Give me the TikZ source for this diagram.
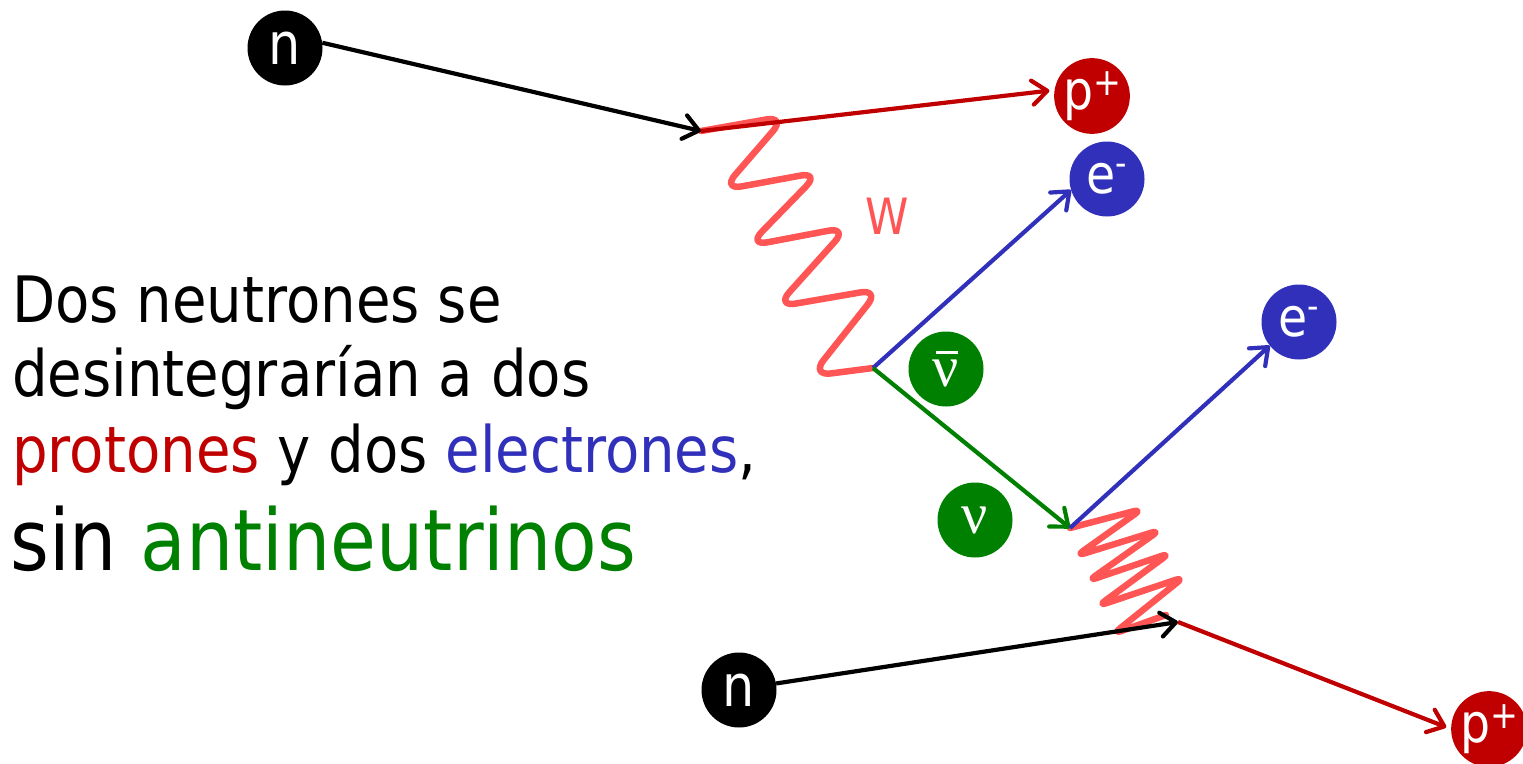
\documentclass[tikz,border=0pt]{standalone}
\usepackage{fontspec}
\setmainfont{DejaVu Sans}[FakeStretch=0.877]
\newfontfamily\nufont{Liberation Serif}
\usetikzlibrary{arrows.meta}
\definecolor{pred}{HTML}{C00000}
\definecolor{pblue}{HTML}{3030BB}
\definecolor{pgreen}{HTML}{008000}
\definecolor{wred}{HTML}{FF5555}
\tikzset{
  particle/.style={circle, minimum size=75pt, inner sep=0pt, text=white},
  arr/.style={line width=4.2pt, -{Straight Barb[length=15pt,width=24pt,round]}},
  wboson/.style={line width=6.5pt, color=wred, line cap=round, line join=round},
  txt/.style={anchor=base west, inner sep=0pt},
}
\begin{document}
\begin{tikzpicture}[x=1pt,y=-1pt]
\useasboundingbox (0,0) rectangle (1523,763);
% particles
\node[particle, fill=black] (n1) at (285,48) {\fontsize{58}{58}\selectfont n};
\node[particle, fill=black] (n2) at (739,690) {\fontsize{58}{58}\selectfont n};
\node[particle, fill=pred] (p1) at (1092,96) {\fontsize{54}{54}\selectfont p\raisebox{14pt}{\fontsize{38}{38}\selectfont +}};
\node[particle, fill=pred] (p2) at (1489,729) {\fontsize{54}{54}\selectfont p\raisebox{14pt}{\fontsize{38}{38}\selectfont +}};
\node[particle, fill=pblue] (e1) at (1107,179) {\fontsize{54}{54}\selectfont e\raisebox{18pt}{\fontsize{36}{36}\selectfont -}};
\node[particle, fill=pblue] (e2) at (1299,322) {\fontsize{54}{54}\selectfont e\raisebox{18pt}{\fontsize{36}{36}\selectfont -}};
\node[particle, fill=pgreen] (nb) at (946,369) {\fontsize{58}{58}\nufont\rlap{\hspace{3pt}\raisebox{33pt}{\rule{22pt}{3pt}}}ν};
\node[particle, fill=pgreen] (nu) at (975,520) {\fontsize{58}{58}\nufont ν};
% vertices
\coordinate (v1) at (701,131);
\coordinate (v2) at (873,368);
\coordinate (v3) at (1070,528);
\coordinate (v4) at (1178,622);
% W bosons
\draw[wboson, rounded corners=20pt] (v1) -- (786,116) -- (722,190) -- (820,172) -- (748,246) -- (848,227) -- (776,307) -- (880,289) -- (811,376) -- (v2);
\draw[wboson, rounded corners=9pt] (v3) -- (1142,509) -- (1076,556) -- (1160,530) -- (1088,581) -- (1170,553) -- (1098,606) -- (1184,577) -- (1113,634) -- (1166,615);
\node[text=wred, inner sep=0pt] (w) at (887,216) {\fontsize{50}{50}\selectfont W};
% fermion lines
\draw[arr, black] (n1.8) -- (v1);
\draw[arr, pred, shorten >=5pt] (v1) -- (p1.171);
\draw[arr, pblue] (v2) -- (e1.197);
\draw[arr, pgreen] (v2) -- (v3);
\draw[arr, pblue] (v3) -- (e2.219);
\draw[arr, black] (n2.10) -- (v4);
\draw[arr, pred, shorten >=5pt] (v4) -- (p2.west);
% text
\node[txt] (l1) at (12,322) {\fontsize{64}{64}\selectfont Dos neutrones se};
\node[txt] (l2) at (12,396) {\fontsize{64}{64}\selectfont desintegrarían a dos};
\node[txt] (l3) at (12,472) {\fontsize{64}{64}\selectfont \textcolor{pred}{protones} y dos \textcolor{pblue}{electrones},};
\node[txt] (l4) at (10,570) {\fontsize{85}{85}\selectfont sin \textcolor{pgreen}{antineutrinos}};
\end{tikzpicture}
\end{document}
